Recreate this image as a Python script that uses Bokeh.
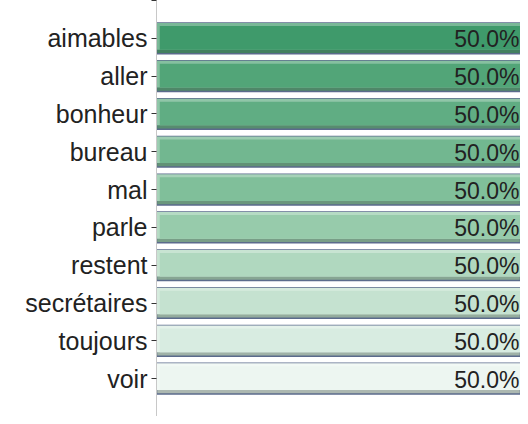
from bokeh.plotting import figure
from bokeh.models import ColumnDataSource, Range1d, FixedTicker
from bokeh.embed import file_html
from bokeh.resources import INLINE
from bokeh.core.properties import value

categories = ["aimables", "aller", "bonheur", "bureau", "mal", "parle",
              "restent", "secrétaires", "toujours", "voir"]
values = [50.0, 50.0, 50.0, 50.0, 50.0, 50.0, 50.0, 50.0, 50.0, 50.0]
labels = ["50.0%"] * 10
colors = ["#3f9a6b", "#52a578", "#60ad83", "#72b790", "#80bf9a",
          "#97cbab", "#b0d8bf", "#c5e2d0", "#d8ece1", "#edf6f1"]


def mix(hexc, other, t):
    a = [int(hexc[i:i + 2], 16) for i in (1, 3, 5)]
    b = [int(other[i:i + 2], 16) for i in (1, 3, 5)]
    return "#%02x%02x%02x" % tuple(round(x + (y - x) * t) for x, y in zip(a, b))


pos = list(range(len(categories)))
BAR_H = 0.81
px = 1 / 37.8  # approx data units per pixel vertically

src = ColumnDataSource(dict(
    y=pos,
    v=values,
    lab=labels,
    fill=colors,
    hi=[mix(c, "#ffffff", 0.3) for c in colors],
    sh=[mix(c, "#4a5a50", 0.4) for c in colors],
    y_top_part=[p - 2 * px for p in pos],
    y_main=[p - 0.5 * px for p in pos],
))

p = figure(width=520, height=416, output_backend="svg", toolbar_location=None,
           x_range=Range1d(0, 50), y_range=Range1d(10, -1),
           min_border_left=156, min_border_right=0, min_border_top=0,
           min_border_bottom=0)
p.outline_line_color = None
p.grid.visible = False
p.xaxis.visible = False

# outer bar (shadow colour) with border
p.hbar(y="y", right="v", left=0, height=BAR_H, source=src, fill_color="sh",
       line_color="#5b6b8c", line_width=1.5)
# highlight area (everything except bottom shadow)
p.hbar(y="y_top_part", right="v", left=0, height=BAR_H - 4 * px, source=src,
       fill_color="hi", line_color=None)
# main fill
p.hbar(y="y_main", right="v", left=0.45, height=BAR_H - 7 * px, source=src,
       fill_color="fill", line_color=None)

p.text(x="v", y="y", text="lab", source=src, text_align="right",
       text_baseline="middle", x_offset=-1, y_offset=1,
       text_font=value("Liberation Sans"),
       text_font_size="23px", text_color="#222222")

yaxis = p.yaxis[0]
yaxis.ticker = FixedTicker(ticks=[-1] + pos + [10])
yaxis.major_label_overrides = {i: c for i, c in zip(pos, categories)}
yaxis.major_label_overrides.update({-1: "", 10: ""})
yaxis.major_label_text_font = "Liberation Sans"
yaxis.major_label_text_font_size = "25px"
yaxis.major_label_text_color = "#222222"
yaxis.major_tick_in = 0
yaxis.major_tick_out = 5
yaxis.major_tick_line_color = "#333333"
yaxis.minor_tick_line_color = None
yaxis.axis_line_color = "#c8c8c8"
yaxis.major_label_standoff = 4

open("out.html", "w").write(file_html(p, INLINE))
